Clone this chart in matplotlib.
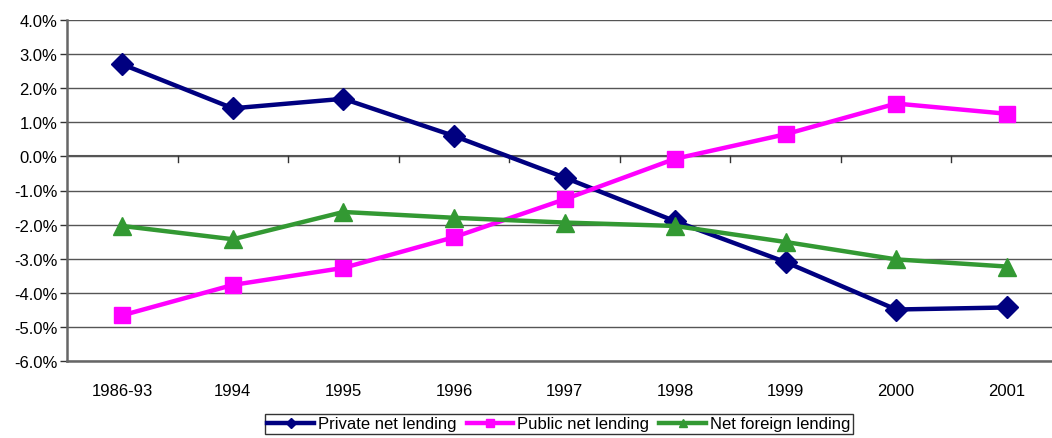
import matplotlib
matplotlib.use('Agg')
import matplotlib.pyplot as plt
from matplotlib.ticker import FuncFormatter

plt.rcParams['font.family'] = ['Liberation Sans', 'DejaVu Sans']

# Datos (% del PIB)
categories = ["1986-93", "1994", "1995", "1996", "1997", "1998", "1999", "2000", "2001"]
private_net = [2.70, 1.41, 1.69, 0.60, -0.62, -1.90, -3.10, -4.49, -4.43]
public_net = [-4.66, -3.77, -3.27, -2.37, -1.26, -0.07, 0.65, 1.55, 1.25]
foreign_net = [-2.04, -2.43, -1.63, -1.80, -1.94, -2.04, -2.51, -3.02, -3.23]

fig = plt.figure(figsize=(10.52, 4.39), dpi=100)
# el área del gráfico sigue más allá del borde derecho (recortada)
ax = fig.add_axes([67 / 1052, 77 / 439, 995 / 1052, 341 / 439])

x = range(len(categories))
ax.plot(x, private_net, color='#000080', linewidth=3.2, marker='D', markersize=11,
        label='Private net lending', zorder=3)
ax.plot(x, public_net, color='#FF00FF', linewidth=3.2, marker='s', markersize=12,
        label='Public net lending', zorder=3)
ax.plot(x, foreign_net, color='#339933', linewidth=3.2, marker='^', markersize=13,
        label='Net foreign lending', zorder=3)

ax.set_xlim(-0.5, len(categories) - 0.5)
ax.set_ylim(-6, 4)
ax.set_yticks([v for v in range(-6, 5)])
ax.yaxis.set_major_formatter(FuncFormatter(lambda v, p: f"{v:.1f}%"))
for v in range(-6, 5):
    ax.axhline(v, color='#555555', linewidth=1.0, zorder=1)

# eje x en 0 con marcas en los límites de categoría
ax.axhline(0, color='#555555', linewidth=1.5, zorder=1)
for b in range(1, len(categories)):
    ax.plot([b - 0.5, b - 0.5], [0, -0.15], color='#333333', linewidth=1, zorder=1,
            clip_on=False)
ax.set_xticks(list(x))
ax.set_xticklabels(categories)
ax.tick_params(axis='x', length=0, pad=16, labelsize=12)
ax.tick_params(axis='y', length=5, width=1, color='#333333', labelsize=12, pad=2)

for side in ['top', 'right']:
    ax.spines[side].set_visible(False)
ax.spines['left'].set_color('#666666')
ax.spines['left'].set_linewidth(1.8)
ax.spines['bottom'].set_color('#666666')
ax.spines['bottom'].set_linewidth(1.8)

leg = fig.legend(loc='upper center', bbox_to_anchor=(559 / 1052, 24 / 439), ncol=3,
                 fontsize=12, frameon=True, fancybox=False, edgecolor='black',
                 handlelength=2.8, handletextpad=0.25, columnspacing=0.6,
                 borderpad=0.15, borderaxespad=0, markerscale=0.45)
leg.get_frame().set_linewidth(1.0)

fig.savefig('out.png', dpi=100)
plt.close(fig)
